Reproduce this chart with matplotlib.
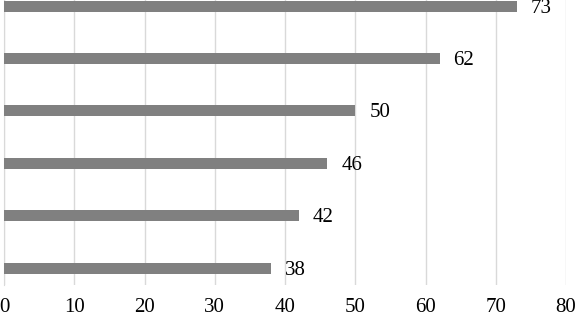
import matplotlib
matplotlib.use("Agg")
import matplotlib.pyplot as plt

categories = ["A", "B", "C", "D", "E", "F"]
values = [38, 42, 46, 50, 62, 73]
xticks = [0, 10, 20, 30, 40, 50, 60, 70, 80]

plt.rcParams['font.family'] = ['Liberation Serif', 'DejaVu Serif']

W, H = 576, 315
fig = plt.figure(figsize=(W/100, H/100), dpi=100)
ax = fig.add_axes([4/W, 30/H, (566-4)/W, 285/H])

ypos = list(range(len(categories)))
ax.barh(ypos, values, height=0.21, color="#808080", zorder=3)
for y, v in zip(ypos, values):
    ax.text(v + 2.0, y - 0.04, str(v), va="center", ha="left", fontsize=15, color="black")

ax.set_xlim(0, 80)
ax.set_ylim(-0.324, 5.115)
ax.set_xticks(xticks)
ax.set_xticklabels([str(t) for t in xticks], fontsize=15)
ax.set_yticks([])
ax.grid(axis="x", color="#d9d9d9", linewidth=1, zorder=0)
for s in ["top", "right", "bottom"]:
    ax.spines[s].set_visible(False)
ax.spines["left"].set_color("#d9d9d9")
ax.tick_params(axis="x", length=0, pad=9)

fig.savefig("out.png", dpi=100)
